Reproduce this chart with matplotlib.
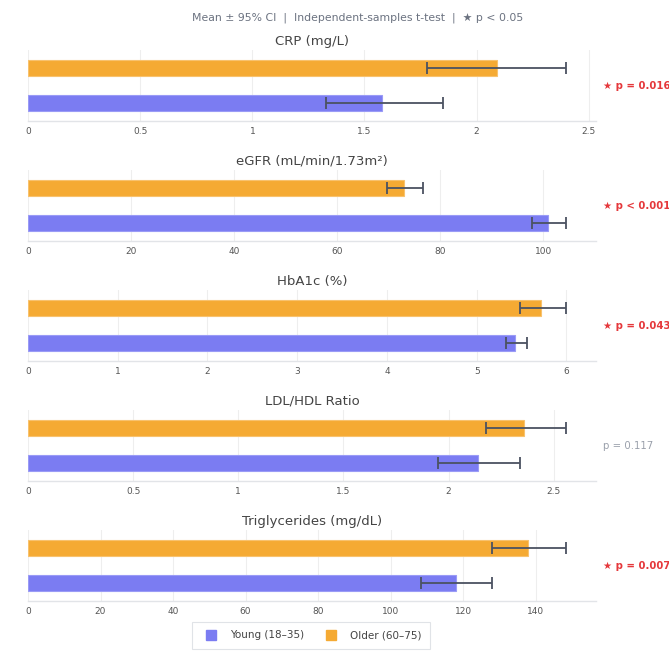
import numpy as np
from matplotlib import pyplot as plt
from matplotlib.ticker import MultipleLocator, FuncFormatter
from matplotlib.lines import Line2D

METRICS = ['CRP (mg/L)', 'eGFR (mL/min/1.73m²)', 'HbA1c (%)', 'LDL/HDL Ratio', 'Triglycerides (mg/dL)']
YOUNG_MEAN = [1.58, 101.0, 5.43, 2.14, 118.0]
YOUNG_LO = [1.33, 97.9, 5.33, 1.95, 108.3]
YOUNG_HI = [1.85, 104.5, 5.56, 2.34, 127.9]
OLDER_MEAN = [2.09, 72.9, 5.72, 2.36, 138.0]
OLDER_LO = [1.78, 69.6, 5.48, 2.18, 127.9]
OLDER_HI = [2.40, 76.6, 6.00, 2.56, 148.5]
P_LABELS = ['★ p = 0.016', '★ p < 0.001', '★ p = 0.043', 'p = 0.117', '★ p = 0.007']
SIGNIFICANT = [True, True, True, False, True]
TICK_STEPS = [0.5, 20, 1, 0.5, 20]
GROUPS = ['Young (18–35)', 'Older (60–75)']

YOUNG_COLOR = '#7b7cf2'
OLDER_COLOR = '#f5aa33'
ERR_COLOR = '#4b5261'

W, H = 669, 659
fig = plt.figure(figsize=(W / 100, H / 100), dpi=100)
plt.rcParams['font.family'] = ['DejaVu Sans']


def px_box(x0, y0, x1, y1):
    # pixel box (top-left origin) -> figure fraction
    return [x0 / W, 1 - y1 / H, (x1 - x0) / W, (y1 - y0) / H]


fig.text(358 / W, 1 - 18 / H, 'Mean ± 95% CI  |  Independent-samples t-test  |  ★ p < 0.05',
         ha='center', va='center', fontsize=7.8, color='#6b7280')

for i, name in enumerate(METRICS):
    top = 50 + 120 * i
    ax = fig.add_axes(px_box(28, top, 596, top + 71))
    means = [YOUNG_MEAN[i], OLDER_MEAN[i]]
    lo = [YOUNG_MEAN[i] - YOUNG_LO[i], OLDER_MEAN[i] - OLDER_LO[i]]
    hi = [YOUNG_HI[i] - YOUNG_MEAN[i], OLDER_HI[i] - OLDER_MEAN[i]]
    colors = [YOUNG_COLOR, OLDER_COLOR]
    edges = ['#9a9bf6', '#f8c26e']
    ax.barh([0, 1], means, height=0.45, color=colors, edgecolor=edges, linewidth=0.8, zorder=2)
    ax.errorbar(means, [0, 1], xerr=[lo, hi], fmt='none', ecolor=ERR_COLOR,
                elinewidth=1.3, capsize=4.2, capthick=1.3, zorder=3)

    ax.set_xlim(0, max(YOUNG_HI[i], OLDER_HI[i]) * 1.055)
    ax.set_ylim(-0.5, 1.5)
    ax.xaxis.set_major_locator(MultipleLocator(TICK_STEPS[i]))
    ax.xaxis.set_major_formatter(FuncFormatter(lambda v, _: f'{v:g}'))
    ax.set_yticks([])
    ax.grid(axis='x', color='#eeeeee', linewidth=0.8, zorder=0)
    ax.set_axisbelow(True)
    for side in ['top', 'right', 'left']:
        ax.spines[side].set_visible(False)
    ax.spines['bottom'].set_color('#e2e4e8')
    ax.spines['bottom'].set_linewidth(1.0)
    ax.tick_params(axis='x', length=0, pad=4, labelsize=6.5, labelcolor='#555555')

    fig.text(312 / W, 1 - (41 + 120 * i) / H, name, ha='center', va='center',
             fontsize=9.5, color='#444444')
    if SIGNIFICANT[i]:
        fig.text(603 / W, 1 - (86 + 120 * i) / H, P_LABELS[i], ha='left', va='center',
                 fontsize=7.3, fontweight='bold', color='#e5383b')
    else:
        fig.text(603 / W, 1 - (86 + 120 * i) / H, P_LABELS[i], ha='left', va='center',
                 fontsize=7.3, color='#9aa0ab')

handles = [Line2D([], [], marker='s', linestyle='none', markersize=7,
                  markerfacecolor=c, markeredgecolor=c) for c in [YOUNG_COLOR, OLDER_COLOR]]
leg = fig.legend(handles, GROUPS, loc='center', bbox_to_anchor=(311 / W, 1 - 635.5 / H),
                 ncol=2, fontsize=7.5, frameon=True, fancybox=False, handletextpad=0.8,
                 columnspacing=1.6, borderpad=0.8)
leg.get_frame().set_edgecolor('#d9dce1')
leg.get_frame().set_linewidth(0.8)
for t in leg.get_texts():
    t.set_color('#444444')

fig.savefig('out.png', dpi=100)
